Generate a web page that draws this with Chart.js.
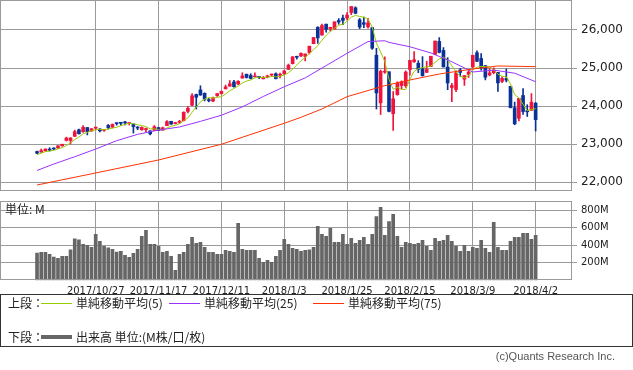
<!DOCTYPE html>
<html lang="ja">
<head>
<meta charset="utf-8">
<title>NYダウ 日足チャート</title>
<script src="https://cdn.jsdelivr.net/npm/chart.js@4.4.1/dist/chart.umd.min.js"></script>
<style>
  html, body { margin: 0; padding: 0; background: #fff; }
  #wrap { position: relative; width: 633px; height: 370px; overflow: hidden;
          font-family: "Noto Sans CJK JP", "DejaVu Sans", sans-serif; color: #222; }
  .unit { position: absolute; left: 5px; top: 202px; font-size: 12px; line-height: 14px; }
  #legend { position: absolute; left: 0; top: 294px; width: 631px; height: 51px; border: 1px solid #333; }
  #legend .t { position: absolute; font-size: 12px; line-height: 14px; white-space: nowrap; }
  #legend .ln { position: absolute; height: 0; }
  .copy { position: absolute; right: 18px; top: 350px; font-family: "Liberation Sans", sans-serif;
          font-size: 11px; line-height: 13px; color: #555; }
</style>
</head>
<body>
<div id="wrap">
  <canvas id="priceChart" width="633" height="192" style="position:absolute;left:0;top:0"></canvas>
  <canvas id="volChart" width="633" height="104" style="position:absolute;left:0;top:196px"></canvas>
  <div class="unit">単位: M</div>
  <div id="legend">
    <span class="t" style="left:7px;top:1px">上段：</span>
    <span class="ln" style="left:40px;top:8px;width:31px;border-top:1px solid #99cc00"></span>
    <span class="t" style="left:75px;top:1px">単純移動平均(5)</span>
    <span class="ln" style="left:168px;top:8px;width:31px;border-top:1px solid #9933ff"></span>
    <span class="t" style="left:203px;top:1px">単純移動平均(25)</span>
    <span class="ln" style="left:312px;top:8px;width:31px;border-top:1px solid #ff3300"></span>
    <span class="t" style="left:347px;top:1px">単純移動平均(75)</span>
    <span class="t" style="left:7px;top:35px">下段：</span>
    <span class="ln" style="left:40px;top:40px;width:31px;border-top:4px solid #666"></span>
    <span class="t" style="left:75px;top:35px">出来高 単位:(M株/口/枚)</span>
  </div>
  <div class="copy">(c)Quants Research Inc.</div>
</div>
<script>
// x axis: trading day index 0..119, gridlines every 15 days
const tickIdx = [14, 29, 44, 59, 74, 89, 104, 119];
const tickLabels = ['2017/10/27', '2017/11/17', '2017/12/11', '2018/1/3',
                    '2018/1/25', '2018/2/15', '2018/3/9', '2018/4/2'];
const priceTicks = [22000, 23000, 24000, 25000, 26000];
const volTicks = [200, 400, 600, 800];

const opens = [
  22806,22790,22828,22869,22889,22900,22955,23097,23096,23205,
  23378,23328,23436,23342,23420,23398,23360,23490,23445,23555,
  23550,23575,23542,23530,23433,23379,23380,23349,23363,23435,
  23367,23486,23601,23539,23571,23614,23860,24021,24305,24424,
  24335,24167,24130,24275,24330,24452,24523,24635,24581,24735,
  24838,24804,24766,24764,24715,24766,24817,24849,24809,24851,
  24964,25115,25308,25318,25307,25406,25638,26071,25866,26153,
  26037,26025,26249,26313,26313,26460,26584,26268,26191,26084,
  26062,25337,24085,24890,24902,23800,24302,24540,24535,24961,
  25165,25124,24976,24885,25040,25358,25698,25462,25024,24489,
  24435,24950,24706,24833,25026,25403,25252,25063,24816,24878,
  24887,24650,24725,24520,23957,23680,24278,23879,23888,24076
];
const highs = [
  22817,22872,22873,22906,22905,22957,22997,23183,23168,23368,
  23394,23485,23436,23414,23450,23411,23382,23517,23531,23557,
  23560,23602,23564,23530,23461,23454,23419,23349,23487,23441,
  23447,23618,23602,23573,23627,23851,23991,24327,24316,24534,
  24349,24200,24234,24330,24400,24552,24671,24675,24668,24876,
  24838,24850,24871,24777,24778,24814,24839,24872,24864,24941,
  25105,25300,25311,25402,25369,25575,25804,26086,26154,26153,
  26072,26215,26300,26393,26458,26617,26609,26303,26338,26306,
  26062,25520,24946,25294,24903,24382,24640,24663,24925,25203,
  25432,25193,25300,25177,25310,25709,25800,25537,25273,24601,
  24926,24990,24803,24961,25336,25450,25377,25063,24985,25002,
  24887,24770,24977,24520,24105,24203,24462,24036,24329,24095
];
const lows = [
  22749,22785,22807,22820,22858,22881,22946,23082,23004,23197,
  23261,23305,23242,23342,23378,23320,23337,23392,23425,23497,
  23500,23503,23502,23291,23377,23361,23323,23242,23363,23354,
  23367,23486,23518,23530,23541,23610,23820,24010,23922,24283,
  24136,24111,24119,24253,24313,24452,24523,24500,24565,24735,
  24735,24715,24766,24718,24715,24742,24790,24713,24741,24825,
  24963,25106,25235,25296,25187,25371,25638,25648,25866,25942,
  25969,26011,26150,26137,26267,26402,26425,26034,26059,26050,
  25490,23923,23778,24860,23849,23360,24284,24451,24490,24810,
  25149,24880,24788,24883,25040,25358,25398,25027,24431,24118,
  24379,24781,24543,24753,25013,25165,24946,24688,24794,24847,
  24388,24612,24634,23952,23509,23607,23778,23726,23888,23345
];
const closes = [
  22761,22831,22873,22841,22871,22957,22997,23158,23163,23329,
  23274,23441,23330,23401,23434,23349,23377,23435,23517,23539,
  23548,23557,23563,23462,23422,23439,23409,23271,23458,23358,
  23430,23590,23526,23557,23580,23836,23940,24272,24231,24290,
  24180,24140,24211,24329,24386,24504,24585,24509,24651,24792,
  24754,24726,24782,24754,24746,24774,24838,24719,24824,24922,
  25075,25295,25283,25386,25369,25574,25803,25792,26116,26017,
  26071,26214,26210,26252,26392,26617,26439,26076,26149,26187,
  25521,24346,24912,24893,23860,24191,24601,24640,24893,25200,
  25219,24965,24798,24962,25310,25709,25410,25029,24608,24538,
  24874,24884,24801,24895,25336,25178,25007,24758,24873,24946,
  24610,24727,24683,23958,23533,24202,23857,23849,24103,23644
];
// volume, millions of shares
const volumes = [
  311,318,318,295,265,250,273,273,348,473,
  462,409,398,375,523,443,386,371,352,322,
  330,284,261,307,352,500,568,409,409,386,
  318,330,273,114,295,318,409,489,420,432,
  375,318,318,295,295,341,330,318,648,352,
  341,341,341,250,205,227,205,273,341,466,
  409,364,352,330,341,348,375,614,523,500,
  591,432,432,523,409,477,420,455,489,409,
  523,727,830,511,670,750,500,375,432,420,
  409,420,455,386,341,477,443,455,511,443,
  386,330,398,330,375,364,455,364,318,659,
  375,341,341,443,489,489,534,534,466,511
];
// moving averages as shown on the chart
const ma5 = [
  22723,22761,22803,22816,22835,22875,22908,22965,23029,23121,
  23184,23273,23307,23355,23376,23391,23378,23399,23422,23443,
  23483,23519,23545,23534,23510,23489,23459,23401,23400,23387,
  23385,23421,23472,23492,23537,23618,23688,23837,23972,24114,
  24183,24223,24210,24230,24249,24314,24403,24463,24527,24608,
  24658,24686,24741,24762,24752,24756,24779,24766,24780,24815,
  24876,24967,25080,25192,25282,25381,25483,25585,25731,25860,
  25960,26042,26126,26153,26228,26337,26382,26355,26335,26294,
  26074,25656,25423,25172,24706,24440,24491,24437,24437,24705,
  24911,24983,25015,25029,25051,25149,25238,25284,25213,25059,
  24892,24787,24741,24798,24958,25019,25043,25035,25030,24952,
  24839,24783,24768,24585,24302,24221,24047,23880,23909,23931
];
const ma25Idx = [0,4,9,14,19,24,29,34,39,44,49,54,59,64,69,74,79,81,83,84,89,94,99,104,109,114,119];
const ma25 = [22307,22477,22669,22871,23091,23257,23368,23451,23598,23759,23979,24252,24508,
              24741,25064,25388,25696,25706,25717,25674,25559,25397,25163,24896,24945,24864,24640];
const ma75Idx = [0,14,29,44,59,63,68,74,83,89,96,104,110,119];
const ma75 = [21926,22242,22583,22996,23548,23705,23924,24247,24537,24686,24843,24975,25054,25036];

const UP = '#f0143c';
const DOWN = '#0a3296';
const GRID = '#9a9a9a';
const X_MIN = -8.84, X_MAX = 127.68;

Chart.defaults.font.family = '"DejaVu Sans", sans-serif';
Chart.defaults.color = '#222';

const colors = closes.map((c, i) => c >= opens[i] ? UP : DOWN);

// gray frame around each panel
const panelFrame = {
  id: 'panelFrame',
  afterDraw(chart) {
    const { ctx, chartArea: a } = chart;
    ctx.save();
    ctx.strokeStyle = GRID;
    ctx.lineWidth = 1;
    ctx.strokeRect(Math.round(a.left) + 0.5, Math.round(a.top) + 0.5,
                   Math.round(a.right - a.left) - 1, Math.round(a.bottom - a.top) - 1);
    ctx.restore();
  }
};

function xScale(showLabels) {
  return {
    type: 'linear',
    min: X_MIN,
    max: X_MAX,
    offset: false,
    border: { display: false },
    grid: { color: GRID, offset: false, drawTicks: false },
    afterBuildTicks: s => { s.ticks = tickIdx.map(v => ({ value: v })); },
    afterFit: s => {
      s.height = showLabels ? 19.7 : 0;
      s.paddingLeft = 0; s.paddingRight = 0;
    },
    ticks: {
      display: showLabels,
      autoSkip: false,
      maxRotation: 0,
      minRotation: 0,
      padding: 5,
      font: { size: 10 },
      callback: (v) => tickLabels[tickIdx.indexOf(v)]
    }
  };
}

function yScale(min, max, ticks, size, fmt) {
  return {
    position: 'right',
    min: min,
    max: max,
    border: { display: false },
    grid: { color: GRID, tickLength: 5 },
    afterBuildTicks: s => { s.ticks = ticks.map(v => ({ value: v })); },
    afterFit: s => { s.width = 61; s.paddingTop = 0; s.paddingBottom = 0; },
    ticks: { padding: 4, font: { size: size }, callback: fmt }
  };
}

function line(idx, vals, color) {
  return {
    type: 'line',
    data: vals.map((v, k) => ({ x: idx[k], y: v })),
    borderColor: color,
    borderWidth: 1,
    pointRadius: 0,
    tension: 0,
    order: 0
  };
}

const dayIdx = closes.map((c, i) => i);

new Chart(document.getElementById('priceChart'), {
  type: 'bar',
  data: {
    datasets: [
      line(ma75Idx, ma75, '#ff3300'),
      line(ma25Idx, ma25, '#9933ff'),
      line(dayIdx, ma5, '#99cc00'),
      {
        label: 'wick',
        data: dayIdx.map(i => ({ x: i, y: [lows[i], highs[i]] })),
        backgroundColor: colors,
        barThickness: 1,
        grouped: false,
        order: 2
      },
      {
        label: 'body',
        data: dayIdx.map(i => ({ x: i, y: [opens[i], closes[i]] })),
        backgroundColor: colors,
        barThickness: 3,
        minBarLength: 1,
        grouped: false,
        order: 1
      }
    ]
  },
  options: {
    responsive: false,
    animation: false,
    layout: { padding: { left: 0, top: 0, right: 0, bottom: 1 } },
    plugins: { legend: { display: false }, tooltip: { enabled: false } },
    scales: {
      x: xScale(false),
      y: yScale(21768, 26788, priceTicks, 12, v => v.toLocaleString('en-US'))
    }
  },
  plugins: [panelFrame]
});

new Chart(document.getElementById('volChart'), {
  type: 'bar',
  data: {
    datasets: [{
      data: dayIdx.map(i => ({ x: i, y: volumes[i] })),
      backgroundColor: '#666',
      barThickness: 3,
      grouped: false
    }]
  },
  options: {
    responsive: false,
    animation: false,
    layout: { padding: { left: 0, top: 5, right: 0, bottom: 0 } },
    plugins: { legend: { display: false }, tooltip: { enabled: false } },
    scales: {
      x: xScale(true),
      y: yScale(0, 903, volTicks, 10, v => v + 'M')
    }
  },
  plugins: [panelFrame]
});
</script>
</body>
</html>
